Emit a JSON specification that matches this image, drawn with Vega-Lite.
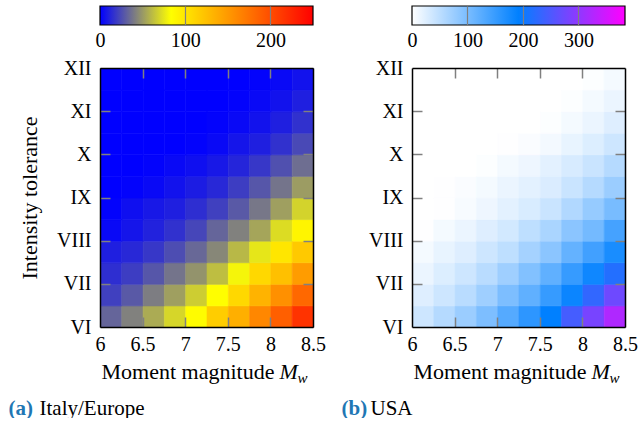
{
  "$schema": "https://vega.github.io/schema/vega-lite/v6.json",
  "background": "white",
  "padding": {"left": 8, "top": 5, "right": 0, "bottom": 0},
  "config": {
    "font": "Liberation Serif",
    "view": {"stroke": null},
    "style": {
      "guide-label": {"font": "Liberation Serif"},
      "guide-title": {"font": "Liberation Serif"}
    },
    "axis": {
      "labelFont": "Liberation Serif",
      "labelFontSize": 20,
      "labelColor": "black",
      "titleFont": "Liberation Serif",
      "titleFontSize": 22,
      "titleFontWeight": "normal",
      "titleColor": "black",
      "labelFlush": false,
      "grid": false,
      "domain": false,
      "ticks": false
    }
  },
  "datasets": {
    "italy": [
      {"mw":6.125,"mmi":6.25,"n":33},{"mw":6.375,"mmi":6.25,"n":42},{"mw":6.625,"mmi":6.25,"n":56},{"mw":6.875,"mmi":6.25,"n":70},{"mw":7.125,"mmi":6.25,"n":85},{"mw":7.375,"mmi":6.25,"n":116},{"mw":7.625,"mmi":6.25,"n":136},{"mw":7.875,"mmi":6.25,"n":162},{"mw":8.125,"mmi":6.25,"n":188},{"mw":8.375,"mmi":6.25,"n":217},
      {"mw":6.125,"mmi":6.75,"n":21},{"mw":6.375,"mmi":6.75,"n":29},{"mw":6.625,"mmi":6.75,"n":41},{"mw":6.875,"mmi":6.75,"n":52},{"mw":7.125,"mmi":6.75,"n":67},{"mw":7.375,"mmi":6.75,"n":84},{"mw":7.625,"mmi":6.75,"n":109},{"mw":7.875,"mmi":6.75,"n":133},{"mw":8.125,"mmi":6.75,"n":156},{"mw":8.375,"mmi":6.75,"n":182},
      {"mw":6.125,"mmi":7.25,"n":15},{"mw":6.375,"mmi":7.25,"n":20},{"mw":6.625,"mmi":7.25,"n":28},{"mw":6.875,"mmi":7.25,"n":38},{"mw":7.125,"mmi":7.25,"n":48},{"mw":7.375,"mmi":7.25,"n":62},{"mw":7.625,"mmi":7.25,"n":80},{"mw":7.875,"mmi":7.25,"n":109},{"mw":8.125,"mmi":7.25,"n":125},{"mw":8.375,"mmi":7.25,"n":148},
      {"mw":6.125,"mmi":7.75,"n":10},{"mw":6.375,"mmi":7.75,"n":13},{"mw":6.625,"mmi":7.75,"n":18},{"mw":6.875,"mmi":7.75,"n":25},{"mw":7.125,"mmi":7.75,"n":34},{"mw":7.375,"mmi":7.75,"n":44},{"mw":7.625,"mmi":7.75,"n":60},{"mw":7.875,"mmi":7.75,"n":75},{"mw":8.125,"mmi":7.75,"n":100},{"mw":8.375,"mmi":7.75,"n":119},
      {"mw":6.125,"mmi":8.25,"n":3},{"mw":6.375,"mmi":8.25,"n":7},{"mw":6.625,"mmi":8.25,"n":11},{"mw":6.875,"mmi":8.25,"n":16},{"mw":7.125,"mmi":8.25,"n":23},{"mw":7.375,"mmi":8.25,"n":33},{"mw":7.625,"mmi":8.25,"n":42},{"mw":7.875,"mmi":8.25,"n":54},{"mw":8.125,"mmi":8.25,"n":72},{"mw":8.375,"mmi":8.25,"n":90},
      {"mw":6.125,"mmi":8.75,"n":1},{"mw":6.375,"mmi":8.75,"n":5},{"mw":6.625,"mmi":8.75,"n":8},{"mw":6.875,"mmi":8.75,"n":10},{"mw":7.125,"mmi":8.75,"n":15},{"mw":7.375,"mmi":8.75,"n":21},{"mw":7.625,"mmi":8.75,"n":29},{"mw":7.875,"mmi":8.75,"n":39},{"mw":8.125,"mmi":8.75,"n":52},{"mw":8.375,"mmi":8.75,"n":69},
      {"mw":6.125,"mmi":9.25,"n":0},{"mw":6.375,"mmi":9.25,"n":1},{"mw":6.625,"mmi":9.25,"n":3},{"mw":6.875,"mmi":9.25,"n":6},{"mw":7.125,"mmi":9.25,"n":9},{"mw":7.375,"mmi":9.25,"n":13},{"mw":7.625,"mmi":9.25,"n":20},{"mw":7.875,"mmi":9.25,"n":28},{"mw":8.125,"mmi":9.25,"n":38},{"mw":8.375,"mmi":9.25,"n":51},
      {"mw":6.125,"mmi":9.75,"n":0},{"mw":6.375,"mmi":9.75,"n":0},{"mw":6.625,"mmi":9.75,"n":1},{"mw":6.875,"mmi":9.75,"n":3},{"mw":7.125,"mmi":9.75,"n":5},{"mw":7.375,"mmi":9.75,"n":8},{"mw":7.625,"mmi":9.75,"n":12},{"mw":7.875,"mmi":9.75,"n":18},{"mw":8.125,"mmi":9.75,"n":26},{"mw":8.375,"mmi":9.75,"n":36},
      {"mw":6.125,"mmi":10.25,"n":0},{"mw":6.375,"mmi":10.25,"n":0},{"mw":6.625,"mmi":10.25,"n":0},{"mw":6.875,"mmi":10.25,"n":0},{"mw":7.125,"mmi":10.25,"n":1},{"mw":7.375,"mmi":10.25,"n":3},{"mw":7.625,"mmi":10.25,"n":7},{"mw":7.875,"mmi":10.25,"n":10},{"mw":8.125,"mmi":10.25,"n":16},{"mw":8.375,"mmi":10.25,"n":24},
      {"mw":6.125,"mmi":10.75,"n":0},{"mw":6.375,"mmi":10.75,"n":0},{"mw":6.625,"mmi":10.75,"n":0},{"mw":6.875,"mmi":10.75,"n":0},{"mw":7.125,"mmi":10.75,"n":0},{"mw":7.375,"mmi":10.75,"n":1},{"mw":7.625,"mmi":10.75,"n":3},{"mw":7.875,"mmi":10.75,"n":6},{"mw":8.125,"mmi":10.75,"n":10},{"mw":8.375,"mmi":10.75,"n":16},
      {"mw":6.125,"mmi":11.25,"n":0},{"mw":6.375,"mmi":11.25,"n":0},{"mw":6.625,"mmi":11.25,"n":0},{"mw":6.875,"mmi":11.25,"n":0},{"mw":7.125,"mmi":11.25,"n":0},{"mw":7.375,"mmi":11.25,"n":0},{"mw":7.625,"mmi":11.25,"n":1},{"mw":7.875,"mmi":11.25,"n":3},{"mw":8.125,"mmi":11.25,"n":6},{"mw":8.375,"mmi":11.25,"n":10},
      {"mw":6.125,"mmi":11.75,"n":0},{"mw":6.375,"mmi":11.75,"n":0},{"mw":6.625,"mmi":11.75,"n":0},{"mw":6.875,"mmi":11.75,"n":0},{"mw":7.125,"mmi":11.75,"n":0},{"mw":7.375,"mmi":11.75,"n":0},{"mw":7.625,"mmi":11.75,"n":0},{"mw":7.875,"mmi":11.75,"n":1},{"mw":8.125,"mmi":11.75,"n":3},{"mw":8.375,"mmi":11.75,"n":6}
    ],
    "usa": [
      {"mw":6.125,"mmi":6.25,"n":38},{"mw":6.375,"mmi":6.25,"n":56},{"mw":6.625,"mmi":6.25,"n":75},{"mw":6.875,"mmi":6.25,"n":98},{"mw":7.125,"mmi":6.25,"n":128},{"mw":7.375,"mmi":6.25,"n":158},{"mw":7.625,"mmi":6.25,"n":192},{"mw":7.875,"mmi":6.25,"n":244},{"mw":8.125,"mmi":6.25,"n":282},{"mw":8.375,"mmi":6.25,"n":324},
      {"mw":6.125,"mmi":6.75,"n":25},{"mw":6.375,"mmi":6.75,"n":38},{"mw":6.625,"mmi":6.75,"n":53},{"mw":6.875,"mmi":6.75,"n":72},{"mw":7.125,"mmi":6.75,"n":98},{"mw":7.375,"mmi":6.75,"n":120},{"mw":7.625,"mmi":6.75,"n":151},{"mw":7.875,"mmi":6.75,"n":184},{"mw":8.125,"mmi":6.75,"n":230},{"mw":8.375,"mmi":6.75,"n":275},
      {"mw":6.125,"mmi":7.25,"n":15},{"mw":6.375,"mmi":7.25,"n":26},{"mw":6.625,"mmi":7.25,"n":38},{"mw":6.875,"mmi":7.25,"n":53},{"mw":7.125,"mmi":7.25,"n":72},{"mw":7.375,"mmi":7.25,"n":94},{"mw":7.625,"mmi":7.25,"n":120},{"mw":7.875,"mmi":7.25,"n":151},{"mw":8.125,"mmi":7.25,"n":181},{"mw":8.375,"mmi":7.25,"n":218},
      {"mw":6.125,"mmi":7.75,"n":8},{"mw":6.375,"mmi":7.75,"n":17},{"mw":6.625,"mmi":7.75,"n":25},{"mw":6.875,"mmi":7.75,"n":38},{"mw":7.125,"mmi":7.75,"n":49},{"mw":7.375,"mmi":7.75,"n":68},{"mw":7.625,"mmi":7.75,"n":87},{"mw":7.875,"mmi":7.75,"n":117},{"mw":8.125,"mmi":7.75,"n":143},{"mw":8.375,"mmi":7.75,"n":173},
      {"mw":6.125,"mmi":8.25,"n":1},{"mw":6.375,"mmi":8.25,"n":8},{"mw":6.625,"mmi":8.25,"n":15},{"mw":6.875,"mmi":8.25,"n":25},{"mw":7.125,"mmi":8.25,"n":34},{"mw":7.375,"mmi":8.25,"n":49},{"mw":7.625,"mmi":8.25,"n":64},{"mw":7.875,"mmi":8.25,"n":87},{"mw":8.125,"mmi":8.25,"n":105},{"mw":8.375,"mmi":8.25,"n":140},
      {"mw":6.125,"mmi":8.75,"n":0},{"mw":6.375,"mmi":8.75,"n":1},{"mw":6.625,"mmi":8.75,"n":6},{"mw":6.875,"mmi":8.75,"n":13},{"mw":7.125,"mmi":8.75,"n":21},{"mw":7.375,"mmi":8.75,"n":29},{"mw":7.625,"mmi":8.75,"n":41},{"mw":7.875,"mmi":8.75,"n":59},{"mw":8.125,"mmi":8.75,"n":79},{"mw":8.375,"mmi":8.75,"n":102},
      {"mw":6.125,"mmi":9.25,"n":0},{"mw":6.375,"mmi":9.25,"n":1},{"mw":6.625,"mmi":9.25,"n":4},{"mw":6.875,"mmi":9.25,"n":8},{"mw":7.125,"mmi":9.25,"n":15},{"mw":7.375,"mmi":9.25,"n":21},{"mw":7.625,"mmi":9.25,"n":28},{"mw":7.875,"mmi":9.25,"n":41},{"mw":8.125,"mmi":9.25,"n":56},{"mw":8.375,"mmi":9.25,"n":75},
      {"mw":6.125,"mmi":9.75,"n":0},{"mw":6.375,"mmi":9.75,"n":0},{"mw":6.625,"mmi":9.75,"n":0},{"mw":6.875,"mmi":9.75,"n":2},{"mw":7.125,"mmi":9.75,"n":8},{"mw":7.375,"mmi":9.75,"n":13},{"mw":7.625,"mmi":9.75,"n":21},{"mw":7.875,"mmi":9.75,"n":30},{"mw":8.125,"mmi":9.75,"n":41},{"mw":8.375,"mmi":9.75,"n":56},
      {"mw":6.125,"mmi":10.25,"n":0},{"mw":6.375,"mmi":10.25,"n":0},{"mw":6.625,"mmi":10.25,"n":0},{"mw":6.875,"mmi":10.25,"n":0},{"mw":7.125,"mmi":10.25,"n":1},{"mw":7.375,"mmi":10.25,"n":4},{"mw":7.625,"mmi":10.25,"n":9},{"mw":7.875,"mmi":10.25,"n":17},{"mw":8.125,"mmi":10.25,"n":26},{"mw":8.375,"mmi":10.25,"n":38},
      {"mw":6.125,"mmi":10.75,"n":0},{"mw":6.375,"mmi":10.75,"n":0},{"mw":6.625,"mmi":10.75,"n":0},{"mw":6.875,"mmi":10.75,"n":0},{"mw":7.125,"mmi":10.75,"n":0},{"mw":7.375,"mmi":10.75,"n":0},{"mw":7.625,"mmi":10.75,"n":2},{"mw":7.875,"mmi":10.75,"n":8},{"mw":8.125,"mmi":10.75,"n":15},{"mw":8.375,"mmi":10.75,"n":25},
      {"mw":6.125,"mmi":11.25,"n":0},{"mw":6.375,"mmi":11.25,"n":0},{"mw":6.625,"mmi":11.25,"n":0},{"mw":6.875,"mmi":11.25,"n":0},{"mw":7.125,"mmi":11.25,"n":0},{"mw":7.375,"mmi":11.25,"n":0},{"mw":7.625,"mmi":11.25,"n":0},{"mw":7.875,"mmi":11.25,"n":2},{"mw":8.125,"mmi":11.25,"n":8},{"mw":8.375,"mmi":11.25,"n":15},
      {"mw":6.125,"mmi":11.75,"n":0},{"mw":6.375,"mmi":11.75,"n":0},{"mw":6.625,"mmi":11.75,"n":0},{"mw":6.875,"mmi":11.75,"n":0},{"mw":7.125,"mmi":11.75,"n":0},{"mw":7.375,"mmi":11.75,"n":0},{"mw":7.625,"mmi":11.75,"n":0},{"mw":7.875,"mmi":11.75,"n":0},{"mw":8.125,"mmi":11.75,"n":2},{"mw":8.375,"mmi":11.75,"n":8}
    ]
  },
  "columns": 2,
  "spacing": {"row": 43, "column": 99},
  "bounds": "flush",
  "resolve": {"scale": {"x": "independent", "y": "independent", "color": "independent", "stroke": "independent"}},
  "concat": [
    {
      "width": 213,
      "height": 19,
      "data": {"values": [{"lo": 0, "hi": 250, "b": 0, "t": 1}]},
      "mark": {
        "type": "rect",
        "stroke": "black",
        "strokeWidth": 1.2,
        "fill": {
          "gradient": "linear",
          "stops": [
            {"offset": 0, "color": "#0000ff"},
            {"offset": 0.3333, "color": "#ffff00"},
            {"offset": 0.6667, "color": "#ff8000"},
            {"offset": 1, "color": "#ff0000"}
          ]
        }
      },
      "encoding": {
        "x": {
          "field": "lo",
          "type": "quantitative",
          "scale": {"domain": [0, 250], "nice": false},
          "axis": {
            "values": [0, 100, 200],
            "title": null,
            "grid": true,
            "gridColor": "#808080",
            "gridWidth": 1.2,
            "gridOpacity": {"condition": {"test": "datum.value == 0", "value": 0}, "value": 1},
            "labelPadding": 5,
            "zindex": 1
          }
        },
        "x2": {"field": "hi"},
        "y": {"field": "b", "type": "quantitative", "scale": {"domain": [0, 1]}, "axis": null},
        "y2": {"field": "t"}
      }
    },
    {
      "width": 213,
      "height": 19,
      "data": {"values": [{"lo": 0, "hi": 384, "b": 0, "t": 1}]},
      "mark": {
        "type": "rect",
        "stroke": "black",
        "strokeWidth": 1.2,
        "fill": {
          "gradient": "linear",
          "stops": [
            {"offset": 0, "color": "#ffffff"},
            {"offset": 0.5, "color": "#0080ff"},
            {"offset": 1, "color": "#ff00ff"}
          ]
        }
      },
      "encoding": {
        "x": {
          "field": "lo",
          "type": "quantitative",
          "scale": {"domain": [0, 384], "nice": false},
          "axis": {
            "values": [0, 100, 200, 300],
            "title": null,
            "grid": true,
            "gridColor": "#808080",
            "gridWidth": 1.2,
            "gridOpacity": {"condition": {"test": "datum.value == 0", "value": 0}, "value": 1},
            "labelPadding": 5,
            "zindex": 1
          }
        },
        "x2": {"field": "hi"},
        "y": {"field": "b", "type": "quantitative", "scale": {"domain": [0, 1]}, "axis": null},
        "y2": {"field": "t"}
      }
    },
    {
      "width": 213,
      "height": 259,
      "data": {"name": "italy"},
      "resolve": {"axis": {"x": "independent", "y": "independent"}},
      "layer": [
        {
          "mark": {"type": "rect", "strokeWidth": 0.6},
          "encoding": {
            "x": {
              "field": "mw", "type": "quantitative",
              "bin": {"extent": [6, 8.5], "step": 0.25},
              "scale": {"domain": [6, 8.5], "nice": false},
              "axis": {
                "orient": "bottom",
                "values": [6, 6.5, 7, 7.5, 8, 8.5],
                "labelExpr": "format(datum.value, '~g')",
                "title": "Moment magnitude",
                "titleX": 1, "titleY": 51, "titleAlign": "left", "titleBaseline": "alphabetic", "titleAnchor": "start",
                "domain": true, "domainColor": "black", "domainWidth": 1.5,
                "ticks": true, "tickSize": -10, "tickColor": "#808080", "tickWidth": 1.5,
                "tickOpacity": {"condition": {"test": "datum.value < 6.1 || datum.value > 8.4", "value": 0}, "value": 1},
                "labelPadding": 17, "zindex": 1
              }
            },
            "y": {
              "field": "mmi", "type": "quantitative",
              "bin": {"extent": [6, 12], "step": 0.5},
              "scale": {"domain": [6, 12], "nice": false},
              "axis": {
                "orient": "left",
                "values": [6, 7, 8, 9, 10, 11, 12],
                "labelExpr": "['VI','VII','VIII','IX','X','XI','XII'][round(datum.value) - 6]",
                "title": "Intensity tolerance",
                "domain": true, "domainColor": "black", "domainWidth": 1.5,
                "ticks": true, "tickSize": -10, "tickColor": "#808080", "tickWidth": 1.5,
                "tickOpacity": {"condition": {"test": "datum.value < 6.1 || datum.value > 11.9", "value": 0}, "value": 1},
                "labelPadding": 19, "titlePadding": 15, "zindex": 1
              }
            },
            "color": {
              "field": "n", "type": "quantitative",
              "scale": {"domain": [0, 83.333, 166.667, 250], "range": ["#0000ff", "#ffff00", "#ff8000", "#ff0000"], "interpolate": "rgb"},
              "legend": null
            },
            "stroke": {
              "field": "n", "type": "quantitative",
              "scale": {"domain": [0, 83.333, 166.667, 250], "range": ["#0000ff", "#ffff00", "#ff8000", "#ff0000"], "interpolate": "rgb"},
              "legend": null
            }
          }
        },
        {
          "mark": {"type": "rect", "opacity": 0},
          "encoding": {
            "x": {
              "field": "mw", "type": "quantitative",
              "bin": {"extent": [6, 8.5], "step": 0.25},
              "axis": {
                "orient": "top", "values": [6, 6.5, 7, 7.5, 8, 8.5], "labels": false, "title": null,
                "domain": true, "domainColor": "black", "domainWidth": 1.5,
                "ticks": true, "tickSize": -10, "tickColor": "#808080", "tickWidth": 1.5,
                "tickOpacity": {"condition": {"test": "datum.value < 6.1 || datum.value > 8.4", "value": 0}, "value": 1},
                "zindex": 1
              }
            },
            "y": {
              "field": "mmi", "type": "quantitative",
              "bin": {"extent": [6, 12], "step": 0.5},
              "axis": {
                "orient": "right", "values": [6, 7, 8, 9, 10, 11, 12], "labels": false, "title": null,
                "domain": true, "domainColor": "black", "domainWidth": 1.5,
                "ticks": true, "tickSize": -10, "tickColor": "#808080", "tickWidth": 1.5,
                "tickOpacity": {"condition": {"test": "datum.value < 6.1 || datum.value > 11.9", "value": 0}, "value": 1},
                "zindex": 1
              }
            }
          }
        },
        {
          "mark": {"type": "rect", "opacity": 0},
          "encoding": {
            "x": {
              "field": "mw", "type": "quantitative",
              "bin": {"extent": [6, 8.5], "step": 0.25},
              "axis": {
                "orient": "bottom", "labels": false, "title": "(a)",
                "titleColor": "#1f77b4", "titleFontWeight": "bold", "titleFontSize": 21,
                "titleX": -92, "titleY": 87, "titleAlign": "left", "titleBaseline": "alphabetic", "titleAnchor": "start"
              }
            },
            "y": {
              "field": "mmi", "type": "quantitative", "bin": {"extent": [6, 12], "step": 0.5},
              "axis": {
                "orient": "left", "labels": false, "title": "M", "titleAngle": 0, "titleFontStyle": "italic",
                "titleX": 179, "titleY": 310, "titleAlign": "left", "titleBaseline": "alphabetic", "titleAnchor": "start"
              }
            }
          }
        },
        {
          "mark": {"type": "rect", "opacity": 0},
          "encoding": {
            "x": {
              "field": "mw", "type": "quantitative",
              "bin": {"extent": [6, 8.5], "step": 0.25},
              "axis": {
                "orient": "bottom", "labels": false, "title": "Italy/Europe", "titleFontSize": 21,
                "titleX": -61, "titleY": 87, "titleAlign": "left", "titleBaseline": "alphabetic", "titleAnchor": "start"
              }
            },
            "y": {
              "field": "mmi", "type": "quantitative", "bin": {"extent": [6, 12], "step": 0.5},
              "axis": {
                "orient": "left", "labels": false, "title": "w", "titleAngle": 0, "titleFontStyle": "italic", "titleFontSize": 15,
                "titleX": 197, "titleY": 314, "titleAlign": "left", "titleBaseline": "alphabetic", "titleAnchor": "start"
              }
            }
          }
        }
      ]
    },
    {
      "width": 213,
      "height": 259,
      "data": {"name": "usa"},
      "resolve": {"axis": {"x": "independent", "y": "independent"}},
      "layer": [
        {
          "mark": {"type": "rect", "strokeWidth": 0.6},
          "encoding": {
            "x": {
              "field": "mw", "type": "quantitative",
              "bin": {"extent": [6, 8.5], "step": 0.25},
              "scale": {"domain": [6, 8.5], "nice": false},
              "axis": {
                "orient": "bottom",
                "values": [6, 6.5, 7, 7.5, 8, 8.5],
                "labelExpr": "format(datum.value, '~g')",
                "title": "Moment magnitude",
                "titleX": 1, "titleY": 51, "titleAlign": "left", "titleBaseline": "alphabetic", "titleAnchor": "start",
                "domain": true, "domainColor": "black", "domainWidth": 1.5,
                "ticks": true, "tickSize": -10, "tickColor": "#808080", "tickWidth": 1.5,
                "tickOpacity": {"condition": {"test": "datum.value < 6.1 || datum.value > 8.4", "value": 0}, "value": 1},
                "labelPadding": 17, "zindex": 1
              }
            },
            "y": {
              "field": "mmi", "type": "quantitative",
              "bin": {"extent": [6, 12], "step": 0.5},
              "scale": {"domain": [6, 12], "nice": false},
              "axis": {
                "orient": "left",
                "values": [6, 7, 8, 9, 10, 11, 12],
                "labelExpr": "['VI','VII','VIII','IX','X','XI','XII'][round(datum.value) - 6]",
                "title": null,
                "domain": true, "domainColor": "black", "domainWidth": 1.5,
                "ticks": true, "tickSize": -10, "tickColor": "#808080", "tickWidth": 1.5,
                "tickOpacity": {"condition": {"test": "datum.value < 6.1 || datum.value > 11.9", "value": 0}, "value": 1},
                "labelPadding": 19, "zindex": 1
              }
            },
            "color": {
              "field": "n", "type": "quantitative",
              "scale": {"domain": [0, 192, 384], "range": ["#ffffff", "#0080ff", "#ff00ff"], "interpolate": "rgb"},
              "legend": null
            },
            "stroke": {
              "field": "n", "type": "quantitative",
              "scale": {"domain": [0, 192, 384], "range": ["#ffffff", "#0080ff", "#ff00ff"], "interpolate": "rgb"},
              "legend": null
            }
          }
        },
        {
          "mark": {"type": "rect", "opacity": 0},
          "encoding": {
            "x": {
              "field": "mw", "type": "quantitative",
              "bin": {"extent": [6, 8.5], "step": 0.25},
              "axis": {
                "orient": "top", "values": [6, 6.5, 7, 7.5, 8, 8.5], "labels": false, "title": null,
                "domain": true, "domainColor": "black", "domainWidth": 1.5,
                "ticks": true, "tickSize": -10, "tickColor": "#808080", "tickWidth": 1.5,
                "tickOpacity": {"condition": {"test": "datum.value < 6.1 || datum.value > 8.4", "value": 0}, "value": 1},
                "zindex": 1
              }
            },
            "y": {
              "field": "mmi", "type": "quantitative",
              "bin": {"extent": [6, 12], "step": 0.5},
              "axis": {
                "orient": "right", "values": [6, 7, 8, 9, 10, 11, 12], "labels": false, "title": null,
                "domain": true, "domainColor": "black", "domainWidth": 1.5,
                "ticks": true, "tickSize": -10, "tickColor": "#808080", "tickWidth": 1.5,
                "tickOpacity": {"condition": {"test": "datum.value < 6.1 || datum.value > 11.9", "value": 0}, "value": 1},
                "zindex": 1
              }
            }
          }
        },
        {
          "mark": {"type": "rect", "opacity": 0},
          "encoding": {
            "x": {
              "field": "mw", "type": "quantitative",
              "bin": {"extent": [6, 8.5], "step": 0.25},
              "axis": {
                "orient": "bottom", "labels": false, "title": "(b)",
                "titleColor": "#1f77b4", "titleFontWeight": "bold", "titleFontSize": 21,
                "titleX": -71, "titleY": 87, "titleAlign": "left", "titleBaseline": "alphabetic", "titleAnchor": "start"
              }
            },
            "y": {
              "field": "mmi", "type": "quantitative", "bin": {"extent": [6, 12], "step": 0.5},
              "axis": {
                "orient": "left", "labels": false, "title": "M", "titleAngle": 0, "titleFontStyle": "italic",
                "titleX": 179, "titleY": 310, "titleAlign": "left", "titleBaseline": "alphabetic", "titleAnchor": "start"
              }
            }
          }
        },
        {
          "mark": {"type": "rect", "opacity": 0},
          "encoding": {
            "x": {
              "field": "mw", "type": "quantitative",
              "bin": {"extent": [6, 8.5], "step": 0.25},
              "axis": {
                "orient": "bottom", "labels": false, "title": "USA", "titleFontSize": 21,
                "titleX": -42, "titleY": 87, "titleAlign": "left", "titleBaseline": "alphabetic", "titleAnchor": "start"
              }
            },
            "y": {
              "field": "mmi", "type": "quantitative", "bin": {"extent": [6, 12], "step": 0.5},
              "axis": {
                "orient": "left", "labels": false, "title": "w", "titleAngle": 0, "titleFontStyle": "italic", "titleFontSize": 15,
                "titleX": 197, "titleY": 314, "titleAlign": "left", "titleBaseline": "alphabetic", "titleAnchor": "start"
              }
            }
          }
        }
      ]
    }
  ]
}
